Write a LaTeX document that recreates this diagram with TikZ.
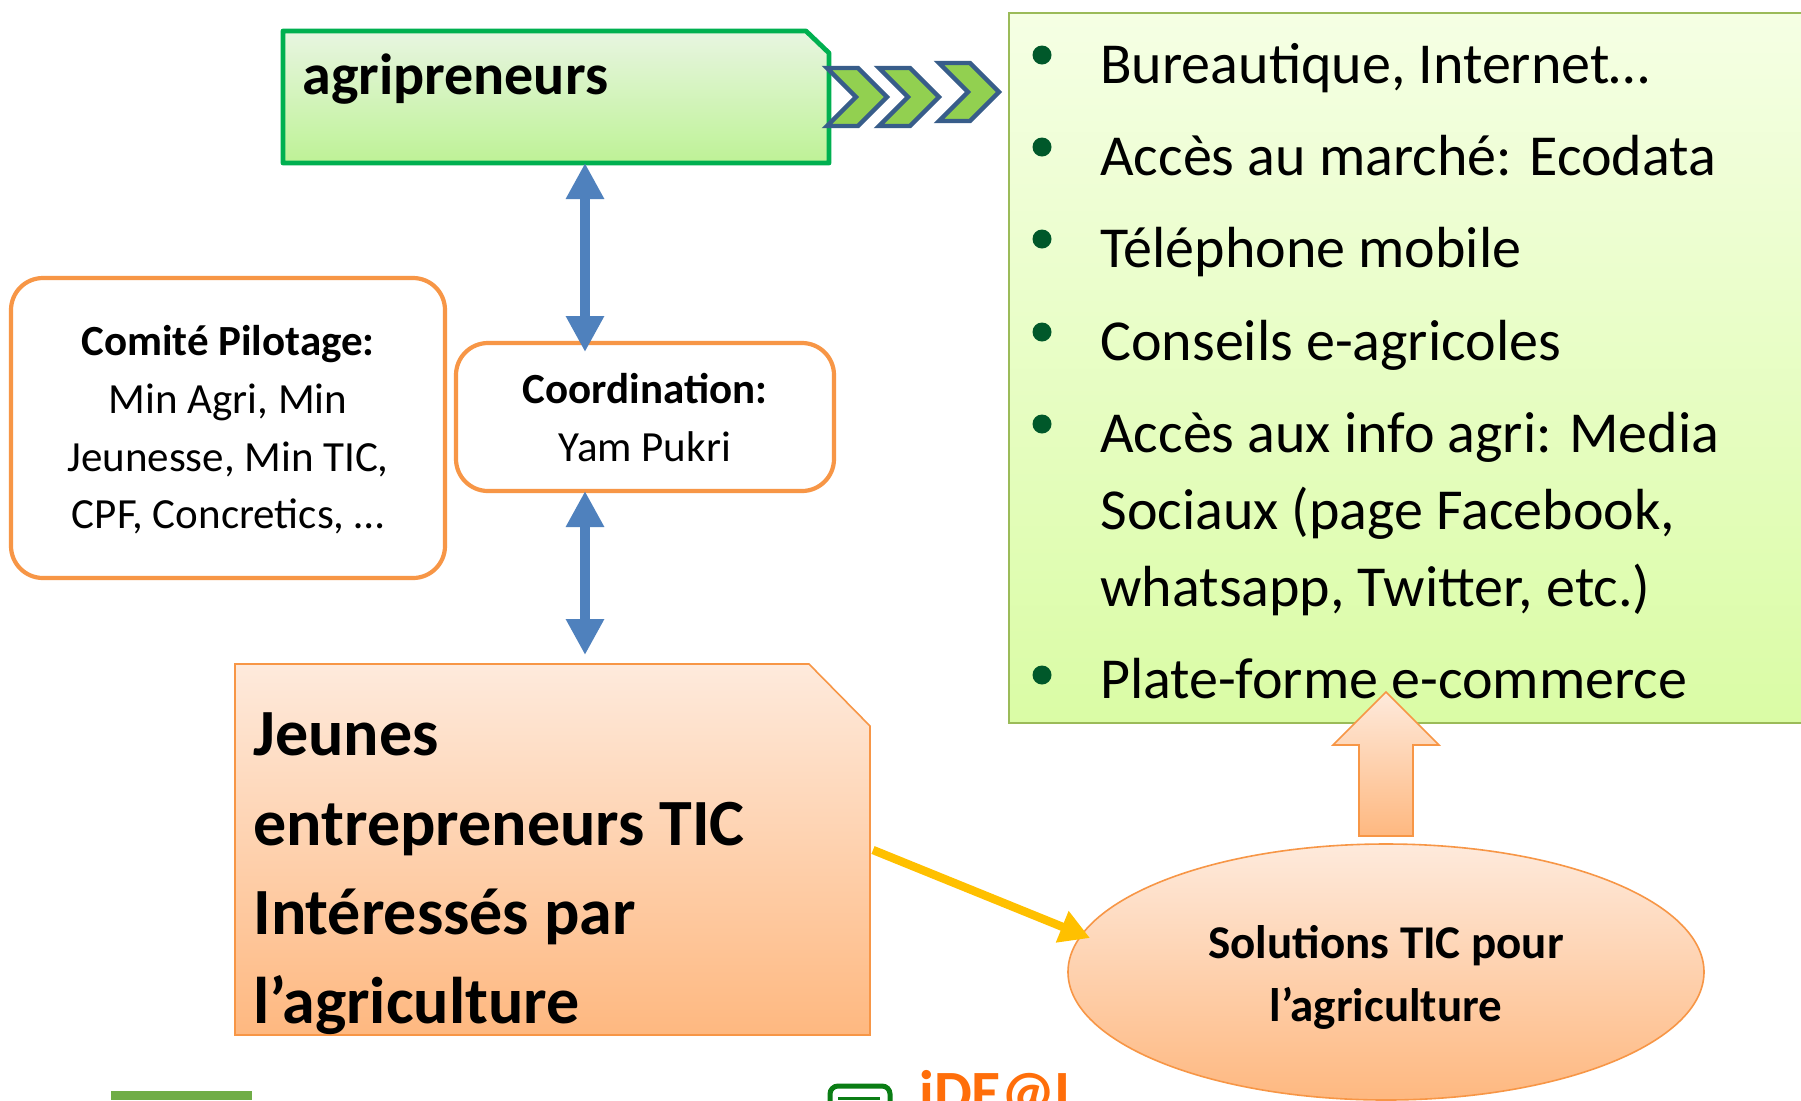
\documentclass[tikz,border=0pt]{standalone}
\usepackage{fontspec}
\setmainfont{Carlito}
\usetikzlibrary{arrows.meta}
\definecolor{orl}{HTML}{F79646}
\definecolor{grn}{HTML}{00B050}
\definecolor{chevb}{HTML}{385D8A}
\definecolor{chevf}{HTML}{92D050}
\definecolor{dblue}{HTML}{4F81BD}
\definecolor{bull}{HTML}{00582A}
\definecolor{listtop}{RGB}{245,255,228}
\definecolor{listbot}{RGB}{218,252,165}
\definecolor{listline}{RGB}{155,187,89}
\definecolor{agritop}{RGB}{232,245,225}
\definecolor{agribot}{RGB}{190,242,150}
\definecolor{ortop}{RGB}{254,234,220}
\definecolor{orbot}{RGB}{254,184,128}
\definecolor{yell}{RGB}{255,192,0}
\definecolor{logog}{RGB}{112,173,71}
\definecolor{logod}{RGB}{10,125,20}
\definecolor{logoo}{RGB}{255,110,10}
\definecolor{logob}{RGB}{200,105,10}
\tikzset{
 x=0.5pt,y=-0.5pt,
 orbox/.style={draw=orl,line width=2.1pt,fill=white,rounded corners=16pt,align=center,inner sep=0pt},
 chev/.style={draw=chevb,line width=2.2pt,fill=chevf,miter limit=8},
 orshape/.style={top color=ortop,bottom color=orbot,draw=orl,line width=0.8pt},
 dbl/.style={draw=dblue,line width=4.6pt,{Triangle[width=18pt,length=18pt]}-{Triangle[width=18pt,length=18pt]}},
 lbl/.style={inner sep=0pt,anchor=base west,text=black},
 listtxt/.style={lbl,font=\fontsize{29}{29}\selectfont},
 smallc/.style={lbl,anchor=base,font=\fontsize{21.5}{21.5}\selectfont},
 smallb/.style={lbl,anchor=base,font=\fontsize{21.5}{21.5}\selectfont\bfseries},
 bigb/.style={lbl,font=\fontsize{33}{33}\selectfont\bfseries},
 solb/.style={lbl,anchor=base,font=\fontsize{23.5}{23.5}\selectfont\bfseries},
 bul/.style={circle,fill=bull,inner sep=0pt,minimum size=9.5pt},
}
\begin{document}
\begin{tikzpicture}
\useasboundingbox (0,0) rectangle (1801,1100);
\clip (0,0) rectangle (1801,1100);
\fill[white] (0,0) rectangle (1801,1100);
% green list
\path[top color=listtop,bottom color=listbot,draw=listline,line width=1.2pt] (1009,13) rectangle (1815,723);
\foreach \y/\n in {55/a,147/b,239/c,332/d,424/e,675/f}{\node[bul] (bul\n) at (1042,\y) {};}
\node[listtxt] (t1) at (1100,83) {Bureautique, Internet…};
\node[listtxt] (t2) at (1100,175) {Accès au marché: Ecodata};
\node[listtxt] (t3) at (1100,267) {Téléphone mobile};
\node[listtxt] (t4) at (1100,360) {Conseils e-agricoles};
\node[listtxt] (t5) at (1100,452) {Accès aux info agri: Media};
\node[listtxt] (t6) at (1100,529) {Sociaux (page Facebook,};
\node[listtxt] (t7) at (1100,606) {whatsapp, Twitter, etc.)};
\node[listtxt] (t8) at (1100,698) {Plate-forme e-commerce};
% agripreneurs
\path[top color=agritop,bottom color=agribot,draw=grn,line width=2.4pt,line join=round] (283,31) -- (806,31) -- (829,53) -- (829,163) -- (283,163) -- cycle;
\node[lbl,font=\fontsize{29}{29}\selectfont\bfseries] (agri) at (302,94) {agripreneurs};
% chevrons
\foreach \dx/\dy in {0/0,52/0,112/-5}{
\draw[chev] (827+\dx,68+\dy) -- (858+\dx,68+\dy) -- (887+\dx,97+\dy) -- (858+\dx,126+\dy) -- (827+\dx,126+\dy) -- (856+\dx,97+\dy) -- cycle;
}
% boxes
\node[orbox,minimum width=217pt,minimum height=150pt] (comite) at (228,428) {};
\node[smallb] (c1) at (228,355) {Comité Pilotage:};
\node[smallc] (c2) at (228,413) {Min Agri, Min};
\node[smallc] (c3) at (228,471) {Jeunesse, Min TIC,};
\node[smallc] (c4) at (228,528) {CPF, Concretics, …};
\node[orbox,minimum width=189pt,minimum height=74pt] (coord) at (645,417) {};
\node[smallb] (k1) at (645,403) {Coordination:};
\node[smallc] (k2) at (645,461) {Yam Pukri};
% jeunes
\path[orshape] (235,664) -- (809,664) -- (870,726) -- (870,1035) -- (235,1035) -- cycle;
\node[bigb] (j1) at (253,755) {Jeunes};
\node[bigb] (j2) at (253,845) {entrepreneurs TIC};
\node[bigb] (j3) at (253,934) {Intéressés par};
\node[bigb] (j4) at (253,1023) {l’agriculture};
% ellipse
\path[orshape] (1386,972) ellipse [x radius=318,y radius=128];
\coordinate (ell) at (1090,938);
\node[solb] (s1) at (1386,958) {Solutions TIC pour};
\node[solb] (s2) at (1386,1021) {l’agriculture};
% up arrow
\path[orshape] (1386,692) -- (1439,745) -- (1413,745) -- (1413,836) -- (1359,836) -- (1359,745) -- (1333,745) -- cycle;
% arrows
\coordinate (dn1) at (585,163);
\coordinate (up1) at (585,352);
\coordinate (dn2) at (585,491);
\coordinate (up2) at (585,655);
\draw[dbl] (dn1) -- (up1);
\draw[dbl] (dn2) -- (up2);
\coordinate (jr) at (873,850);
\draw[draw=yell,line width=4.2pt,-{Triangle[width=16pt,length=15pt]}] (jr) -- (ell);
% cropped logos
\fill[logog] (111,1091) rectangle (252,1100);
\draw[draw=logod,line width=2.5pt,rounded corners=4pt] (830,1115) -- (830,1086) -- (890,1086) -- (890,1115);
\fill[logod] (838,1097) rectangle (880,1100);
\node[lbl,text=logoo,font=\fontsize{30}{30}\selectfont\bfseries] (idl) at (919,1112) {iDE@L};
\draw[draw=logob,line width=3pt] (1603,1115) arc [start angle=180,end angle=0,x radius=34,y radius=28];
\end{tikzpicture}
\end{document}
